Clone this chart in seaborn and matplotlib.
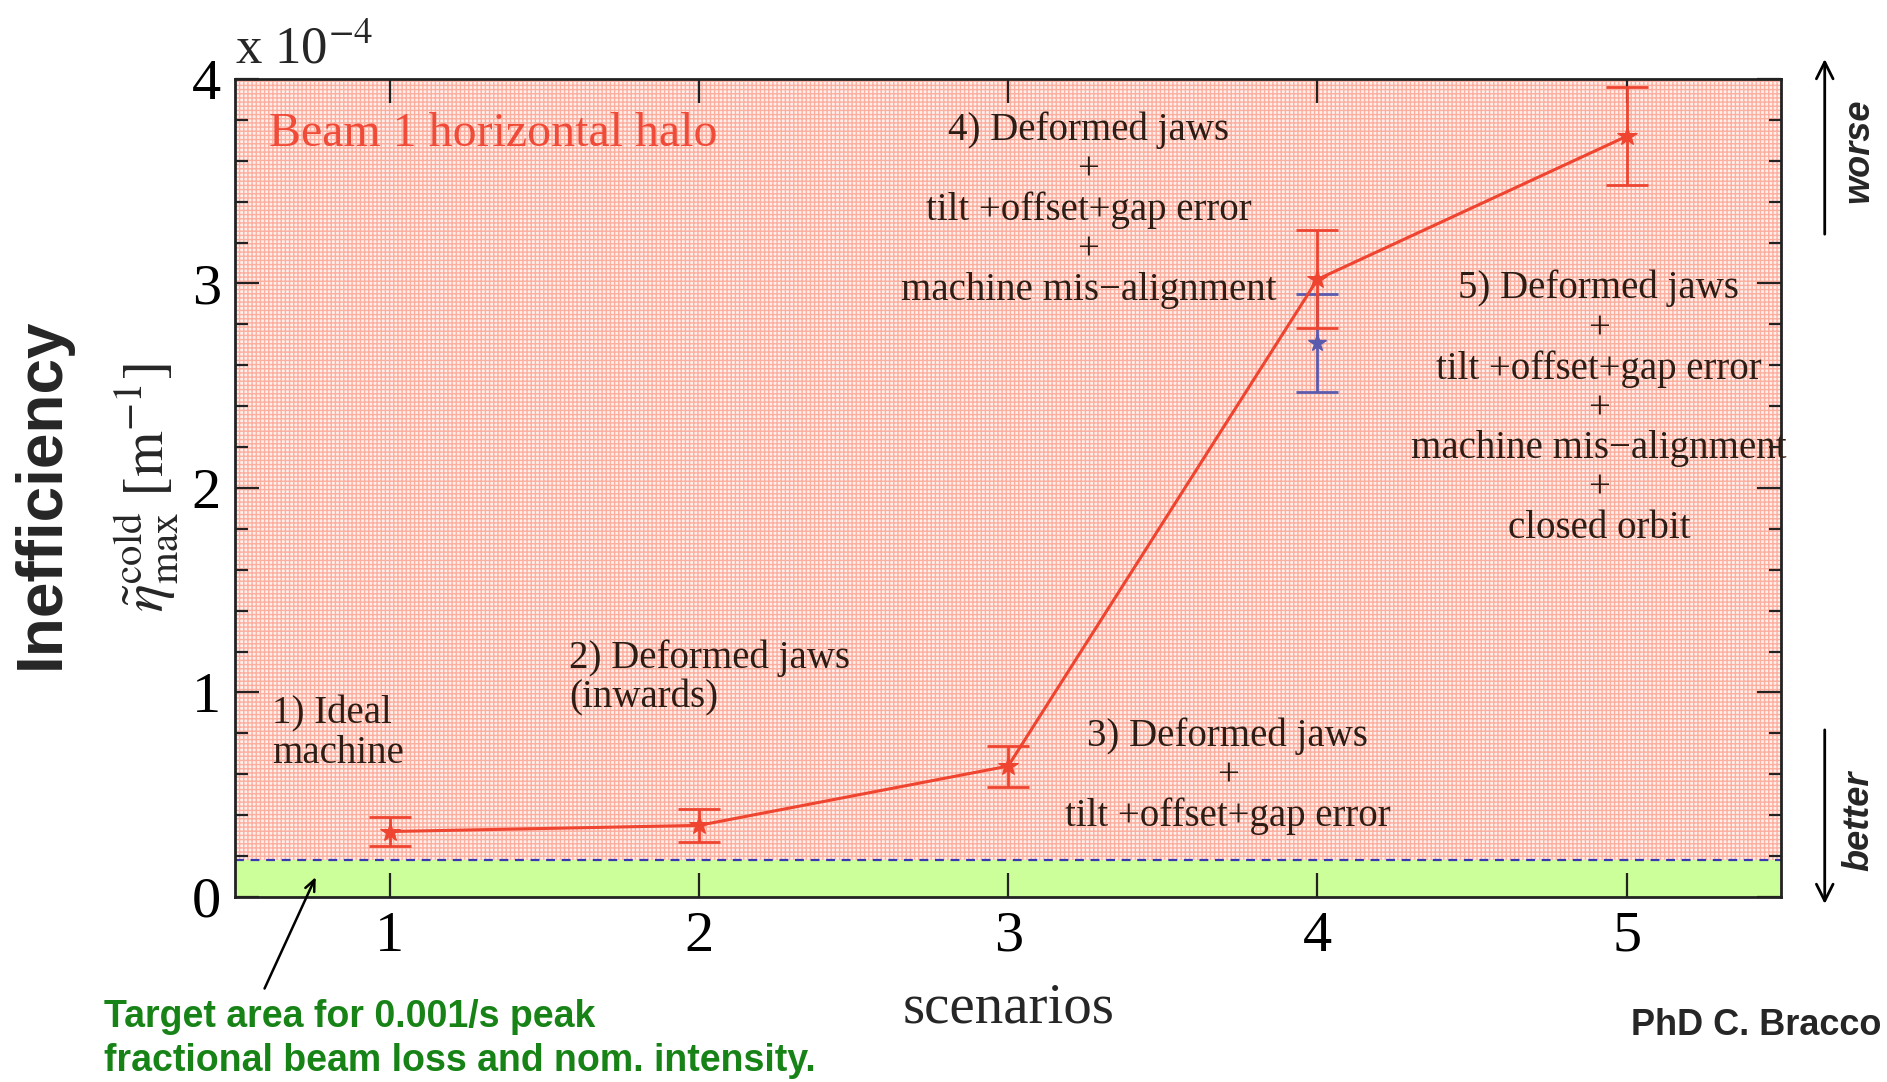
import numpy as np
import pandas as pd
import matplotlib
matplotlib.use("Agg")
import matplotlib.pyplot as plt
import seaborn as sns

# scenario results, in units of 1e-4 m^-1
scenarios = [1, 2, 3, 4, 5]
ineff = [0.32, 0.35, 0.64, 3.02, 3.72]
ineff_err = [0.07, 0.08, 0.10, 0.24, 0.24]

# second (blue) estimate at scenario 4
blue_x = [4]
blue_y = [2.71]
blue_err = [0.24]

target_level = 0.18  # target area upper edge

labels = [
    "1) Ideal\nmachine",
    "2) Deformed jaws\n(inwards)",
    "3) Deformed jaws\n+\ntilt +offset+gap error",
    "4) Deformed jaws\n+\ntilt +offset+gap error\n+\nmachine mis\u2212alignment",
    "5) Deformed jaws\n+\ntilt +offset+gap error\n+\nmachine mis\u2212alignment\n+\nclosed orbit",
]

RED = "#EE4430"
BLUE = "#5A5AAE"
TXT = "#2E1D15"
SERIF = ["Liberation Serif", "DejaVu Serif"]
SANS = ["Liberation Sans", "DejaVu Sans"]

sns.set_style("ticks")
plt.rcParams["font.family"] = SERIF
plt.rcParams["mathtext.fontset"] = "stix"
plt.rcParams["hatch.linewidth"] = 1.0

fig = plt.figure(figsize=(18.87, 10.82), dpi=100)
ax = fig.add_axes([0.1245, 0.171, 0.8195, 0.756])

ax.set_xlim(0.5, 5.5)
ax.set_ylim(0, 4)

# background bands
ax.axhspan(target_level, 4, facecolor="#FFF0EC", edgecolor="#FCAE9F",
           hatch="++++", linewidth=0, zorder=0)
ax.axhspan(0, target_level, facecolor="#CCFF99", linewidth=0, zorder=0)
ax.axhline(target_level, color="#3A3AB0", ls=(0, (4, 3)), lw=1.6, zorder=1)

df = pd.DataFrame({"scenario": scenarios, "ineff": ineff})
sns.lineplot(data=df, x="scenario", y="ineff", color=RED, lw=2.2,
             marker="*", markersize=15, markeredgecolor=RED, ax=ax, zorder=3)
ax.errorbar(scenarios, ineff, yerr=ineff_err, fmt="none", ecolor=RED,
            elinewidth=2, capsize=15, capthick=2, zorder=3)
ax.errorbar(blue_x, blue_y, yerr=blue_err, fmt="*", color=BLUE, ms=13,
            elinewidth=2, capsize=15, capthick=2, zorder=2)

# ticks
ax.set_xticks(scenarios)
ax.set_yticks([0, 1, 2, 3, 4])
ax.set_yticks(np.arange(0, 4.01, 0.2), minor=True)
ax.tick_params(axis="both", which="both", direction="in", top=True, right=True,
               width=1.6, colors="#222222", labelcolor="black")
ax.tick_params(axis="both", which="major", length=17, labelsize=42, pad=10)
ax.tick_params(axis="y", which="minor", length=9)
for s in ax.spines.values():
    s.set_linewidth(2)
    s.set_color("#222222")

ax.set_xlabel("scenarios", fontsize=41, labelpad=14)
ax.set_ylabel(r"$\tilde{\eta}_{\rm max}^{\rm cold}\ [{\rm m}^{-1}]$",
              fontsize=42, labelpad=8)
ax.set_xticklabels([str(s) for s in scenarios])

ax.text(0.5, 4.02, r"x 10$^{-4}$", fontsize=38, ha="left", va="bottom")

ax.text(0.61, 3.73, "Beam 1 horizontal halo", color="#F04A38", fontsize=34.5,
        ha="left", va="center")

kw = dict(fontsize=28, color=TXT, linespacing=1.1, zorder=4)
ax.text(0.62, 0.80, labels[0], ha="left", va="center", **kw)
ax.text(1.58, 1.07, labels[1], ha="left", va="center", **kw)
ax.text(3.71, 0.59, labels[2], ha="center", va="center", **kw)
ax.text(3.26, 3.36, labels[3], ha="center", va="center", **kw)
ax.text(4.91, 2.39, labels[4], ha="center", va="center", **kw)

# side notes
fig.text(0.022, 0.544, "Inefficiency", rotation=90, fontsize=46,
         fontweight="bold", family=SANS, ha="center", va="center")
fig.text(0.997, 0.052, "PhD C. Bracco", fontsize=26, fontweight="bold",
         family=SANS, ha="right", va="center")
fig.text(0.055, 0.040, "Target area for 0.001/s peak\nfractional beam loss and nom. intensity.",
         fontsize=27, fontweight="bold", family=SANS, color="#178317",
         ha="left", va="center", linespacing=1.3)
fig.text(0.985, 0.861, "worse", rotation=90, fontsize=26, fontweight="bold",
         style="italic", family=SANS, ha="center", va="center")
fig.text(0.985, 0.241, "better", rotation=90, fontsize=26, fontweight="bold",
         style="italic", family=SANS, ha="center", va="center")
fig.patches.append(matplotlib.patches.FancyArrowPatch(
    (0.967, 0.781), (0.967, 0.948), transform=fig.transFigure,
    arrowstyle="->,head_length=12,head_width=6", lw=2, color="black"))
fig.patches.append(matplotlib.patches.FancyArrowPatch(
    (0.967, 0.328), (0.967, 0.162), transform=fig.transFigure,
    arrowstyle="->,head_length=12,head_width=6", lw=2, color="black"))

ax.annotate("", xy=(0.765, 0.11), xytext=(0.592, -0.46),
            arrowprops=dict(arrowstyle="->,head_length=0.8,head_width=0.35",
                            lw=1.8, color="black"),
            annotation_clip=False)

fig.savefig("out.png", dpi=100)
